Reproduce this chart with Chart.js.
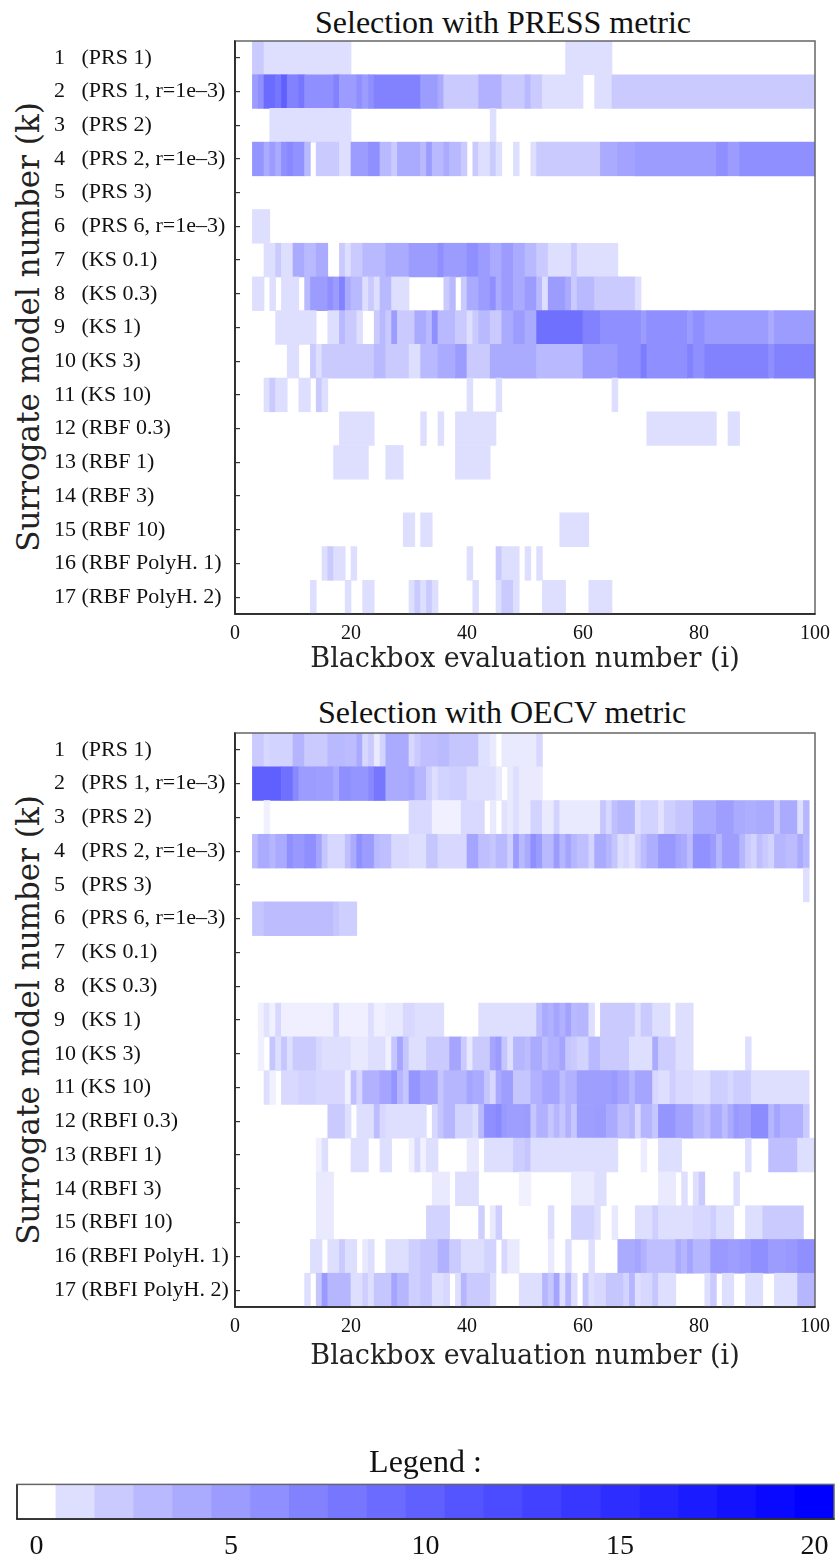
<!DOCTYPE html>
<html>
<head>
<meta charset="utf-8">
<script src="https://cdn.jsdelivr.net/npm/chart.js@4.4.1/dist/chart.umd.min.js"></script>
<style>
  html, body { margin: 0; padding: 0; background: #fff; }
  body { width: 838px; height: 1565px; position: relative; overflow: hidden; font-family: "Liberation Serif", serif; }
  .box { position: absolute; left: 0; width: 838px; }
  .ttl { position: absolute; font-size: 32px; line-height: 1; white-space: nowrap; color: #111; }
  .ytitle { position: absolute; font-family: "DejaVu Serif", serif; font-size: 31px; line-height: 1; white-space: nowrap;
            transform: translate(-50%, -50%) rotate(-90deg); color: #222; }
</style>
</head>
<body>
<div class="ttl" style="left:315px; top:6px;">Selection with PRESS metric</div>
<div class="ytitle" style="left:28px; top:327px;">Surrogate model number (k)</div>
<div class="box" style="top:0; height:690px;"><canvas id="pressChart"></canvas></div>

<div class="ttl" style="left:318px; top:696px;">Selection with OECV metric</div>
<div class="ytitle" style="left:28px; top:1020px;">Surrogate model number (k)</div>
<div class="box" style="top:690px; height:700px;"><canvas id="oecvChart"></canvas></div>

<div class="box" style="top:1440px; height:125px;"><canvas id="legendChart"></canvas></div>

<script>
// model names (rows, top to bottom)
const pressModels = ['(PRS 1)', '(PRS 1, r=1e\u20133)', '(PRS 2)', '(PRS 2, r=1e\u20133)', '(PRS 3)', '(PRS 6, r=1e\u20133)',
  '(KS 0.1)', '(KS 0.3)', '(KS 1)', '(KS 3)', '(KS 10)', '(RBF 0.3)', '(RBF 1)', '(RBF 3)', '(RBF 10)',
  '(RBF PolyH. 1)', '(RBF PolyH. 2)'];
const oecvModels = ['(PRS 1)', '(PRS 1, r=1e\u20133)', '(PRS 2)', '(PRS 2, r=1e\u20133)', '(PRS 3)', '(PRS 6, r=1e\u20133)',
  '(KS 0.1)', '(KS 0.3)', '(KS 1)', '(KS 3)', '(KS 10)', '(RBFI 0.3)', '(RBFI 1)', '(RBFI 3)', '(RBFI 10)',
  '(RBFI PolyH. 1)', '(RBFI PolyH. 2)'];

const evalTicks = [0, 20, 40, 60, 80, 100];
const legendLevels = [0, 1, 2, 3, 4, 5, 6, 7, 8, 9, 10, 11, 12, 13, 14, 15, 16, 17, 18, 19, 20];

// runs per row: [first evaluation, last evaluation, count]
const pressRuns = [
  [[3,4,2],[5,19,1],[57,64,1]],
  [[3,3,5],[4,4,6],[5,6,9],[7,7,8],[8,8,10],[9,10,7],[11,11,8],[12,16,6],[17,17,7],[18,20,5],[21,21,6],[22,22,5],[23,23,6],[24,31,7],[32,34,5],[35,35,4],[36,41,2],[42,45,3.5],[46,49,2],[50,50,3],[51,52,2],[53,59,1],[62,64,1],[65,99,2]],
  [[6,19,1],[44,44,1]],
  [[3,4,5.5],[5,5,4],[6,6,5],[7,7,4],[8,8,6],[9,9,6.5],[10,11,5.8],[12,12,3],[14,17,2],[18,19,1],[20,22,5],[23,24,6],[25,26,3],[27,27,2],[28,31,4],[32,32,3],[33,33,5],[34,35,3],[36,36,4],[37,38,3],[39,39,2],[41,41,2],[42,43,1],[44,44,2],[45,45,1],[48,48,1],[51,51,1],[52,62,2],[63,65,4],[66,68,4.5],[69,82,5],[83,84,6],[85,86,5],[87,99,6]],
  [],
  [[3,5,1]],
  [[5,6,1],[7,7,2],[8,9,1],[10,11,4],[12,13,3],[14,15,4],[18,18,2],[19,19,1],[20,21,2],[22,25,3],[26,29,4],[30,34,5],[35,35,6],[36,39,5],[40,41,6],[42,43,5],[44,45,4],[46,47,5],[48,49,4],[50,51,3],[52,53,2],[54,57,1],[58,58,2],[59,65,1]],
  [[3,4,1],[6,6,1],[8,10,1],[12,12,3],[13,15,5],[16,16,6],[17,17,5],[18,18,7],[19,19,4],[20,21,3],[22,22,1],[23,23,2],[24,24,1],[25,26,3],[27,29,1],[36,36,2],[37,37,3],[39,39,2],[40,41,4],[42,43,5],[44,44,6],[45,45,4],[46,47,5],[48,49,4],[50,51,5],[52,52,3],[53,53,1],[54,56,5],[57,57,4],[58,58,2],[59,61,3],[62,68,2],[69,69,1]],
  [[7,13,1],[16,17,1],[18,18,3],[19,20,2],[21,21,1],[24,24,2],[25,25,3],[26,26,2],[27,27,5],[28,30,2],[31,32,4],[33,33,3],[34,34,6],[35,37,3],[38,39,2],[40,40,1],[41,41,2],[42,43,3],[44,45,2],[46,47,4],[48,49,5],[50,51,4],[52,59,8.5],[60,62,7],[63,69,6],[70,70,5],[71,77,6],[78,78,5],[79,80,6],[81,91,5],[92,92,4],[93,99,5]],
  [[9,10,1],[13,13,2],[14,14,1],[15,23,2],[24,25,3],[26,29,2],[30,31,1],[32,34,3],[35,37,4],[38,39,5],[40,43,2],[44,51,4],[52,59,3],[60,65,5],[66,69,6],[70,70,7.5],[71,77,6],[78,78,7],[79,80,6],[81,91,7],[92,92,6],[93,99,7]],
  [[5,5,1],[6,6,2],[7,8,1],[11,12,1],[14,14,2],[15,15,1],[40,40,1],[45,45,1],[65,65,1]],
  [[18,23,1],[32,32,1],[35,35,1],[38,44,1],[71,82,1],[85,86,1]],
  [[17,22,1],[26,28,1],[38,43,1]],
  [],
  [[29,30,1],[32,33,1],[56,60,1]],
  [[15,15,1],[16,16,2],[17,18,1],[20,20,1],[40,40,1],[45,45,2],[46,46,1],[47,48,1],[50,50,1],[52,52,1]],
  [[13,13,1],[19,19,1],[22,23,1],[30,30,1],[31,31,2],[32,32,1],[33,33,2],[34,34,1],[41,41,1],[45,45,1],[46,47,2],[48,48,1],[53,56,1],[61,64,1]]
];

const oecvRuns = [
  [[3,4,2],[5,5,1.3],[6,9,1.5],[10,11,3.3],[12,15,2],[16,18,3],[19,20,2.8],[21,21,4],[22,22,1.3],[23,23,2],[24,24,0.5],[25,25,1.5],[26,29,4],[30,30,1.3],[31,31,2],[32,34,2.6],[35,36,2.9],[37,41,2.2],[42,43,0.9],[44,44,0.5],[46,51,0.5],[52,52,1.3]],
  [[3,7,10],[8,9,8.5],[10,10,6.5],[11,13,5],[14,16,4.8],[17,17,4],[18,19,6],[20,22,5.5],[23,23,6.5],[24,25,8],[26,29,4],[30,30,4.3],[31,32,3.2],[33,33,1.7],[34,34,1],[35,36,1.5],[37,39,1.7],[40,44,1],[45,45,0.5],[47,47,0.5],[48,48,1],[49,52,0.5]],
  [[5,5,0.3],[30,33,1.2],[34,38,0.3],[39,42,1.2],[44,44,0.5],[46,46,0.8],[47,47,0.5],[48,48,1],[49,50,0.5],[51,52,1.5],[53,54,0.5],[55,55,1.5],[56,62,0.5],[63,63,2.2],[64,64,1.3],[65,65,2.6],[66,68,3.2],[69,69,1],[70,72,1.5],[73,73,0.8],[74,75,1.7],[76,78,2.2],[79,82,4],[83,85,4.8],[86,87,4],[88,89,3.7],[90,92,4],[93,93,2.2],[94,96,4],[97,97,1],[98,98,3.2]],
  [[3,3,2.8],[4,5,4],[6,6,3.2],[7,8,4],[9,9,6],[10,11,5.3],[12,13,6],[14,14,4.3],[15,15,2.2],[16,18,1.3],[19,19,2.6],[20,20,4],[21,21,6],[22,23,5],[24,24,3],[25,26,2.6],[27,29,1.2],[30,32,1],[33,34,2.2],[35,39,1.3],[40,41,4.3],[42,43,2.6],[44,44,2.2],[45,46,3],[47,47,1.7],[48,48,5],[49,49,3],[50,50,4],[51,51,6],[52,52,5],[53,54,3],[55,55,5],[56,56,3.2],[57,57,4.3],[58,58,3.2],[59,60,2.6],[61,61,1.5],[62,63,4],[64,64,3.2],[65,65,2.2],[66,66,1],[67,67,1.3],[68,68,0.8],[69,69,1.7],[70,70,2.8],[71,72,3.7],[73,75,5.3],[76,76,4.3],[77,77,4],[78,78,2.8],[79,81,5.8],[82,82,5],[83,83,3.2],[84,86,4.8],[87,87,3.2],[88,88,2],[89,89,1.5],[90,90,2.6],[91,91,2],[92,92,1.5],[93,94,3.2],[95,96,2.8],[97,97,4],[98,98,3]],
  [[98,98,1]],
  [[3,4,2.2],[5,16,2.8],[17,17,2.2],[18,20,1.7]],
  [],
  [],
  [[4,4,0.3],[5,5,0.8],[6,6,0.3],[7,7,1.3],[8,16,0.35],[17,17,1.3],[18,22,0.35],[23,23,1],[24,25,0.35],[26,28,0.6],[29,30,1.3],[31,35,1],[42,51,1],[52,52,2.8],[53,53,4],[54,54,3.5],[55,55,4.3],[56,56,3.5],[57,57,4.5],[58,58,3],[59,60,3.2],[61,61,1],[63,68,2],[69,69,1],[70,71,2],[72,74,1],[76,78,1]],
  [[4,4,0.3],[6,6,2.2],[7,7,1],[8,8,2.2],[9,9,1],[10,13,2],[14,14,1.3],[15,19,1],[20,22,0.6],[23,25,1],[26,26,0.3],[27,27,2.2],[28,28,4.3],[29,29,2.2],[30,32,1],[33,36,2],[37,38,4.3],[39,39,2],[40,40,0.6],[41,43,2],[44,44,4.3],[45,45,5],[46,46,2.2],[47,47,1],[48,49,3.2],[50,50,2.8],[51,52,4],[53,53,2.8],[54,55,3.5],[56,56,4.3],[57,57,2.2],[58,58,2],[59,60,1.5],[61,62,3],[63,67,2],[68,71,1],[72,72,4],[73,75,1.8],[76,78,1],[88,88,1]],
  [[5,5,1],[6,6,0.3],[8,10,1.2],[11,13,1.5],[14,18,1.3],[19,19,0.3],[20,20,2.6],[21,21,1.3],[22,24,3.5],[25,26,4.3],[27,27,5.5],[28,28,3.2],[29,29,2.2],[30,31,5.5],[32,34,4.3],[35,35,2.2],[36,39,3.2],[40,40,4.3],[41,42,4],[43,43,2.2],[44,44,1.3],[45,45,4],[46,47,4.8],[48,50,2.2],[51,52,3.5],[53,55,4.3],[56,56,2.8],[57,58,3.5],[59,64,4.8],[65,65,5.2],[66,67,4.3],[68,68,3.2],[69,71,4.3],[72,72,1.3],[73,74,1],[75,75,1.7],[76,78,1.2],[79,81,1],[82,84,1.7],[85,85,1.3],[86,88,1.8],[89,98,1]],
  [[16,18,2],[19,19,1],[21,23,1],[24,24,2.8],[25,25,1.3],[26,32,1],[34,34,1.3],[35,35,2.2],[36,37,3.2],[38,40,1.5],[41,41,1],[42,42,3],[43,44,6],[45,45,6.5],[46,46,5.2],[47,49,4.8],[50,50,5],[51,51,2.2],[52,53,3.5],[54,54,2.2],[55,55,3.2],[56,56,2.2],[57,57,3.5],[58,58,2.2],[59,61,4.8],[62,63,5],[64,65,4],[66,67,2.6],[68,68,3.2],[69,69,1.3],[70,71,3.2],[72,72,2.2],[73,75,5.5],[76,78,4.5],[79,80,3.2],[81,81,2.6],[82,83,4],[84,84,2.8],[85,85,4],[86,86,5.2],[87,88,4.8],[89,91,6.2],[92,92,3.2],[93,93,4.3],[94,97,3.5],[98,98,2]],
  [[14,14,0.3],[15,15,1],[20,22,1],[25,26,1],[30,30,0.3],[31,31,1.3],[32,32,0.3],[33,34,1],[40,41,0.6],[43,47,1],[48,49,1.8],[50,50,2.2],[51,65,1],[70,70,0.4],[73,76,1],[88,88,1],[92,96,2.6],[97,99,1]],
  [[14,16,0.5],[34,36,0.5],[38,41,1],[49,50,0.3],[58,61,0.5],[62,63,1],[73,75,0.5],[77,77,1],[79,79,1],[80,80,2],[86,86,1]],
  [[14,16,0.5],[33,36,1.5],[42,42,1.7],[44,44,0.6],[45,45,1.7],[54,54,1],[58,61,1.5],[62,62,1],[65,65,0.6],[69,71,1],[72,72,1.7],[73,78,1],[79,81,1.3],[82,82,1.7],[83,85,1],[88,90,1],[91,97,2]],
  [[13,14,1],[16,17,1],[18,18,2],[19,20,1],[22,22,0.6],[23,23,1],[26,29,1],[30,31,1.7],[32,34,2.2],[35,36,3.5],[37,38,2],[39,42,1],[43,44,1.5],[46,46,1.3],[47,48,0.5],[54,54,0.5],[57,57,1],[61,61,1],[66,68,4],[69,69,4.3],[70,70,3.5],[71,75,2.6],[76,76,4],[77,77,3.2],[78,78,4.3],[79,81,3.2],[82,84,5.2],[85,86,4.8],[87,88,5.3],[89,91,6],[92,94,5],[95,96,5.3],[97,99,6]],
  [[12,12,1],[14,14,2.2],[15,15,5.2],[16,19,3.2],[20,21,1],[22,22,1.7],[23,23,1],[24,26,2.2],[27,27,4.3],[28,29,3.2],[30,31,1.7],[32,33,2.2],[34,35,1],[36,36,1.3],[38,38,1],[39,39,3.2],[40,43,2],[44,44,1],[49,52,1],[53,53,3.2],[54,54,2.2],[55,55,4.3],[56,56,1],[57,57,3.2],[58,58,1],[60,60,2.2],[61,61,1],[62,63,1.3],[64,66,2.2],[67,67,1.5],[68,68,3.2],[69,69,1],[70,71,1.3],[72,72,2.2],[73,75,1],[81,81,1],[82,82,2],[84,85,1],[88,90,1],[93,96,1],[97,99,3.2]]
];

// white -> blue, 0..20
function shade(v) {
  const c = Math.round(255 * (1 - Math.pow(Math.min(v, 20) / 20, 0.68)));
  return `rgb(${c},${c},255)`;
}

const serif = 'Liberation Serif';

// box around the plot, darker on the axis sides
const frame = {
  id: 'frame',
  afterDatasetsDraw(chart) {
    const { ctx, chartArea: a } = chart;
    ctx.save();
    ctx.lineWidth = 1.5;
    ctx.strokeStyle = '#666';
    ctx.strokeRect(a.left, a.top, a.right - a.left, a.bottom - a.top);
    ctx.strokeStyle = '#222';
    ctx.beginPath();
    ctx.moveTo(a.left, a.top);
    ctx.lineTo(a.left, a.bottom);
    ctx.lineTo(a.right, a.bottom);
    ctx.stroke();
    ctx.restore();
  }
};

function heatmap(id, models, runs, xTitle, height, plotTop, plotBottom, titlePad) {
  const labels = models.map((m, i) => (i + 1) + (i < 9 ? '   ' : ' ') + m);
  const cells = [];
  runs.forEach((row, r) => {
    row.forEach(([a, b, v]) => cells.push({ x: [a, b + 1], y: labels[r], v }));
  });
  return new Chart(document.getElementById(id), {
    type: 'bar',
    data: {
      labels,
      datasets: [{
        data: cells,
        backgroundColor: (c) => (c.raw ? shade(c.raw.v) : '#fff'),
        borderWidth: 0,
        borderSkipped: false,
        categoryPercentage: 1,
        barPercentage: 1,
      }],
    },
    options: {
      indexAxis: 'y',
      responsive: true,
      maintainAspectRatio: false,
      animation: false,
      events: [],
      layout: { padding: { left: 54, top: plotTop, right: 18, bottom: 0 } },
      plugins: { legend: { display: false }, tooltip: { enabled: false } },
      scales: {
        y: {
          type: 'category',
          offset: true,
          grid: { offset: false, drawOnChartArea: false, tickLength: -5, color: '#333', lineWidth: 1.2 },
          border: { color: '#222', width: 1.5 },
          ticks: { autoSkip: false, crossAlign: 'far', padding: 12, color: '#111', font: { family: serif, size: 22 } },
          afterFit: (s) => { s.width = 181; },
        },
        x: {
          type: 'linear',
          min: 0,
          max: 100,
          afterBuildTicks: (s) => { s.ticks = evalTicks.map((value) => ({ value })); },
          grid: { drawOnChartArea: false, drawTicks: false },
          border: { color: '#222', width: 1.5 },
          ticks: { padding: 8, maxRotation: 0, color: '#111', font: { family: serif, size: 20 } },
          title: {
            display: true,
            text: xTitle,
            color: '#222',
            font: { family: 'DejaVu Serif', size: 27 },
            padding: { top: 0, bottom: titlePad },
          },
          afterFit: (s) => { s.height = height - plotBottom; },
        },
      },
    },
    plugins: [frame],
  });
}

heatmap('pressChart', pressModels, pressRuns, 'Blackbox evaluation number (i)', 690, 41, 614, 14);
heatmap('oecvChart', oecvModels, oecvRuns, 'Blackbox evaluation number (i)', 700, 43, 617, 17);

new Chart(document.getElementById('legendChart'), {
  type: 'bar',
  data: {
    labels: legendLevels.map(String),
    datasets: [{
      data: legendLevels.map(() => [0, 1]),
      backgroundColor: legendLevels.map(shade),
      borderWidth: 0,
      borderSkipped: false,
      categoryPercentage: 1,
      barPercentage: 1,
    }],
  },
  options: {
    responsive: true,
    maintainAspectRatio: false,
    animation: false,
    events: [],
    layout: { padding: { left: 17, right: 4, top: 0, bottom: 0 } },
    plugins: {
      legend: { display: false },
      tooltip: { enabled: false },
      title: {
        display: true,
        text: 'Legend :',
        fullSize: false,
        color: '#111',
        font: { family: serif, size: 32, weight: 'normal' },
        padding: { top: 4, bottom: 2 },
      },
    },
    scales: {
      x: {
        grid: { display: false },
        border: { color: '#222', width: 1.5 },
        ticks: {
          autoSkip: false,
          maxRotation: 0,
          padding: 3,
          color: '#111',
          font: { family: serif, size: 28 },
          callback: (v, i) => (legendLevels[i] % 5 === 0 ? String(legendLevels[i]) : ''),
        },
        afterFit: (s) => { s.height = 46; },
      },
      y: { display: false, min: 0, max: 1 },
    },
  },
  plugins: [frame],
});
</script>
</body>
</html>
